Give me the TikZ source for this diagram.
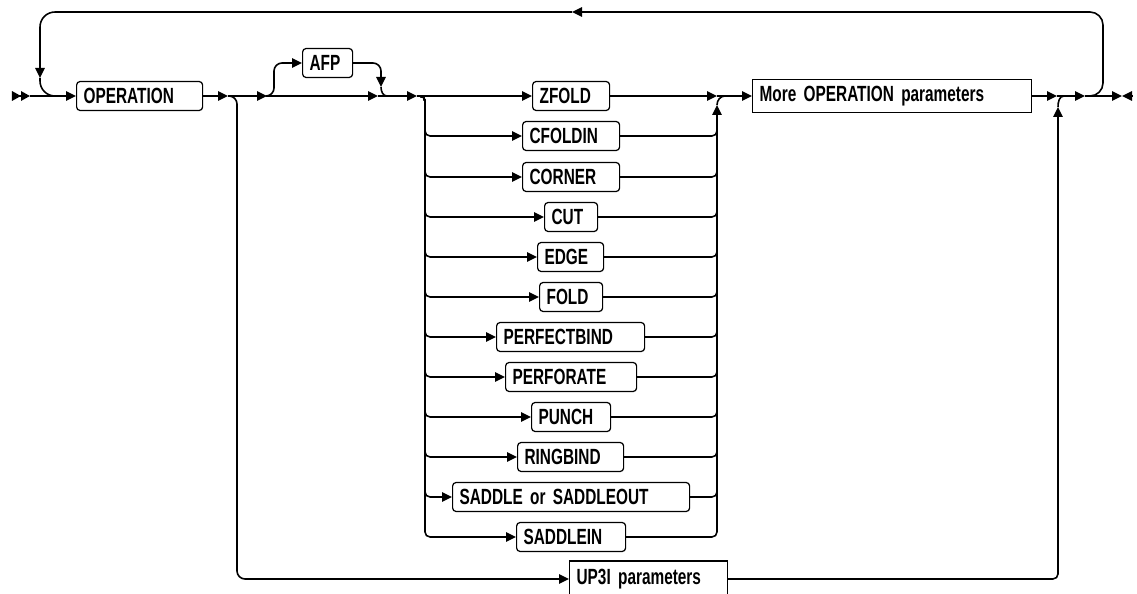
\documentclass[tikz,border=0pt]{standalone}
\usepackage{fontspec}
\newfontfamily\railfont{Liberation Sans}[FakeStretch=0.7]
\usetikzlibrary{arrows.meta, positioning, calc}
\tikzset{
  kwbox/.style={
    draw=black, line width=0.7pt,
    rectangle, rounded corners=2pt,
    anchor=west, minimum height=5.8mm,
    inner xsep=1.4mm, inner ysep=0pt,
    align=left, font=\railfont\bfseries\fontsize{12.5}{14}\selectfont
  },
  parmbox/.style={
    kwbox, rounded corners=0pt, minimum height=6.6mm
  },
  rail/.style={
    line width=0.9pt, line join=round
  },
  railtip/.style={
    -{Triangle[length=2mm,width=1.9mm]}
  }
}
\begin{document}
\begin{tikzpicture}[x=0.2mm, y=-0.2mm]
    \useasboundingbox (0,0) rectangle (1137,594);
    \clip (0,0) rectangle (1137,594);
    % keyword boxes
    \node[kwbox, text width=22.4mm] (op) at (76,96) {OPERATION};
    \node[kwbox, text width=7.2mm] (afp) at (302,63) {AFP};
    \node[kwbox, text width=12.6mm] (zfold) at (532,96) {ZFOLD};
    \node[kwbox, text width=16.6mm] (cfoldin) at (522,136) {CFOLDIN};
    \node[kwbox, text width=16.6mm] (corner) at (522,177) {CORNER};
    \node[kwbox, text width=7.8mm] (cut) at (544,217) {CUT};
    \node[kwbox, text width=10.4mm] (edge) at (537,257) {EDGE};
    \node[kwbox, text width=9.8mm] (fold) at (539,297) {FOLD};
    \node[kwbox, text width=26.8mm] (perfectbind) at (496,337) {PERFECTBIND};
    \node[kwbox, text width=23.4mm] (perforate) at (505,377) {PERFORATE};
    \node[kwbox, text width=13mm] (punch) at (531,417) {PUNCH};
    \node[kwbox, text width=18.4mm] (ringbind) at (517,457) {RINGBIND};
    \node[kwbox, text width=44.6mm] (saddle) at (452,497) {SADDLE or SADDLEOUT};
    \node[kwbox, text width=19mm] (saddlein) at (516,537) {SADDLEIN};
    \node[parmbox, text width=53mm] (more) at (752,96) {More OPERATION parameters};
    \node[parmbox, text width=28.8mm, minimum height=7.2mm] (up3i) at (569,579) {UP3I parameters};
    % junction points
    \coordinate (st) at (12,96);
    \coordinate (dbl) at (30,96);
    \coordinate (a1) at (228,96);
    \coordinate (v1) at (237,96);
    \coordinate (a2) at (267,96);
    \coordinate (afpv) at (274,96);
    \coordinate (a3) at (378,96);
    \coordinate (afpdn) at (381,87);
    \coordinate (afpjoin) at (387,96);
    \coordinate (lin) at (417,96);
    \coordinate (lv) at (425,96);
    \coordinate (a4) at (717,96);
    \coordinate (rv) at (717,118);
    \coordinate (rtip) at (717,105);
    \coordinate (rjoin) at (725,96);
    \coordinate (a5) at (1057,96);
    \coordinate (utip) at (1058,107);
    \coordinate (ujoin) at (1064,96);
    \coordinate (a6) at (1085,96);
    \coordinate (fin) at (1122,96);
    \coordinate (fin2) at (1132,96);
    \coordinate (lptop) at (1103,12);
    \coordinate (lpmid) at (572,12);
    \coordinate (lpdn) at (40,78);
    \coordinate (lpjoin) at (62,96);
    % main line
    \draw[rail, -{Triangle[length=1.8mm,width=1.9mm,sep=0pt]Triangle[length=1.8mm,width=1.9mm]}] (st) -- (dbl);
    \draw[rail, railtip] (dbl) -- (op.west);
    \draw[rail, railtip] (op.east) -- (a1);
    \draw[rail, railtip] (a1) -- (a2);
    \draw[rail, railtip] (a2) -- (a3);
    \draw[rail, railtip] (a3) -- (lin);
    \draw[rail, railtip] (lin) -- (zfold.west);
    \draw[rail, railtip] (zfold.east) -- (a4);
    \draw[rail, railtip] (a4) -- (more.west);
    \draw[rail, railtip] (more.east) -- (a5);
    \draw[rail, railtip] (a5) -- (a6);
    \draw[rail, railtip] (a6) -- (fin);
    \draw[rail, railtip] (fin2) -- (fin);
    % repeat loop
    \draw[rail, railtip, rounded corners=2.6mm] (a6) -| (lptop) -- (lpmid);
    \draw[rail, railtip, rounded corners=3mm] (lpmid) -| (lpdn);
    \draw[rail, rounded corners=3mm] (lpdn) |- (lpjoin);
    % optional AFP
    \draw[rail, railtip, rounded corners=1.6mm] (a2) -| (afp.west -| afpv) -- (afp.west);
    \draw[rail, railtip, rounded corners=1.6mm] (afp.east) -| (afpdn);
    \draw[rail] (afpdn) to[out=-90, in=180] (afpjoin);
    % choice stack, left side
    \draw[rail, railtip, rounded corners=1mm] (lin) -| (cfoldin.west -| lv) -- (cfoldin.west);
    \draw[rail, railtip, rounded corners=1mm] (lin) -| (corner.west -| lv) -- (corner.west);
    \draw[rail, railtip, rounded corners=1mm] (lin) -| (cut.west -| lv) -- (cut.west);
    \draw[rail, railtip, rounded corners=1mm] (lin) -| (edge.west -| lv) -- (edge.west);
    \draw[rail, railtip, rounded corners=1mm] (lin) -| (fold.west -| lv) -- (fold.west);
    \draw[rail, railtip, rounded corners=1mm] (lin) -| (perfectbind.west -| lv) -- (perfectbind.west);
    \draw[rail, railtip, rounded corners=1mm] (lin) -| (perforate.west -| lv) -- (perforate.west);
    \draw[rail, railtip, rounded corners=1mm] (lin) -| (punch.west -| lv) -- (punch.west);
    \draw[rail, railtip, rounded corners=1mm] (lin) -| (ringbind.west -| lv) -- (ringbind.west);
    \draw[rail, railtip, rounded corners=1mm] (lin) -| (saddle.west -| lv) -- (saddle.west);
    \draw[rail, railtip, rounded corners=1mm] (lin) -| (saddlein.west -| lv) -- (saddlein.west);
    % choice stack, right side
    \draw[rail, rounded corners=1mm] (cfoldin.east) -| (rv);
    \draw[rail, rounded corners=1mm] (corner.east) -| (rv);
    \draw[rail, rounded corners=1mm] (cut.east) -| (rv);
    \draw[rail, rounded corners=1mm] (edge.east) -| (rv);
    \draw[rail, rounded corners=1mm] (fold.east) -| (rv);
    \draw[rail, rounded corners=1mm] (perfectbind.east) -| (rv);
    \draw[rail, rounded corners=1mm] (perforate.east) -| (rv);
    \draw[rail, rounded corners=1mm] (punch.east) -| (rv);
    \draw[rail, rounded corners=1mm] (ringbind.east) -| (rv);
    \draw[rail, rounded corners=1mm] (saddle.east) -| (rv);
    \draw[rail, railtip, rounded corners=1mm] (saddlein.east) -| (rtip);
    \draw[rail] (rtip) to[out=90, in=180] (rjoin);
    % UP3I branch
    \draw[rail, railtip, rounded corners=1.6mm] (a1) -| (up3i.west -| v1) -- (up3i.west);
    \draw[rail, railtip, rounded corners=1mm] (up3i.east) -| (utip);
    \draw[rail] (utip) to[out=90, in=180] (ujoin);
\end{tikzpicture}
\end{document}
